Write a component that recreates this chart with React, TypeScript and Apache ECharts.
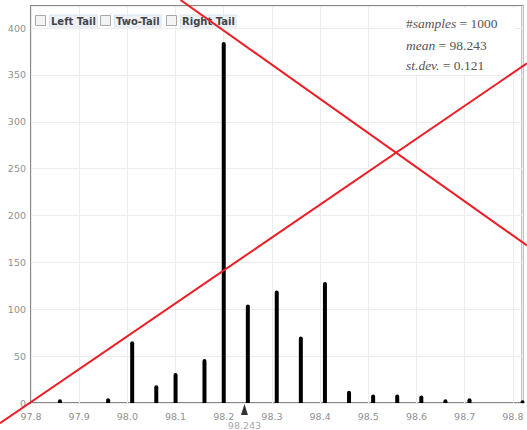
import React, { useEffect, useRef } from "react";
import * as echarts from "echarts";

// Bar positions (sample mean values) and their frequencies
const xValues = [97.86, 97.96, 98.01, 98.06, 98.1, 98.16, 98.2, 98.25, 98.31, 98.36, 98.41, 98.46, 98.51, 98.56, 98.61, 98.66, 98.71, 98.82];
const counts = [4, 5, 66, 19, 32, 47, 385, 105, 120, 71, 129, 13, 9, 9, 8, 4, 5, 3];

const xMin = 97.8;
const xMax = 98.82;
const yMax = 423.5;
const meanValue = 98.243;
const sampleCount = 1000;
const stdDev = 0.121;
const checkboxLabels = ["Left Tail", "Two-Tail", "Right Tail"];

export default function App() {
  const ref = useRef<HTMLDivElement>(null);
  useEffect(() => {
    if (!ref.current) return;
    const chart = echarts.init(ref.current, null, { renderer: "svg" });
    const labelColor = "#909090";
    const labelFont = "DejaVu Sans";
    const serif = "Liberation Serif";
    const cbX = [35, 100, 166];
    const cbTextX = [50, 115, 181];
    const graphics: any[] = [];
    checkboxLabels.forEach((t, i) => {
      graphics.push({
        type: "rect",
        z: 10,
        shape: { x: cbX[i] + 0.5, y: 15.5, width: 10, height: 10 },
        style: { fill: "#f4f4f4", stroke: "#a8a8a8", lineWidth: 1 },
      });
      graphics.push({
        type: "text",
        z: 10,
        x: cbTextX[i],
        y: 21,
        style: {
          text: t,
          font: `bold 10px "${labelFont}"`,
          fill: "#444",
          verticalAlign: "middle",
          backgroundColor: "#edf2f8",
          borderColor: "#dce5ee",
          borderWidth: 1,
          padding: [1, 1, 0, 1],
        },
      });
    });
    const rich = {
      u: { fontFamily: serif, fontSize: 13.5, fill: "#555", fontStyle: "normal" },
      i: { fontFamily: serif, fontSize: 13.5, fill: "#555", fontStyle: "italic" },
    };
    graphics.push({
      type: "rect",
      z: 8,
      shape: { x: 403, y: 8, width: 112, height: 66 },
      style: { fill: "#fff" },
    });
    const statLines = [
      `{u|#}{i|samples}{u| = ${sampleCount}}`,
      `{i|mean}{u| = ${meanValue}}`,
      `{i|st.dev.}{u| = ${stdDev}}`,
    ];
    const statY = [23, 45, 65];
    statLines.forEach((t, i) => {
      graphics.push({
        type: "text",
        z: 9,
        x: 406,
        y: statY[i],
        style: { text: t, rich, verticalAlign: "middle", fill: "#555" },
      });
    });
    // red overlay cross
    graphics.push({
      type: "line",
      z: 100,
      shape: { x1: 180.5, y1: 0, x2: 527, y2: 245.5 },
      style: { stroke: "#ee1c25", lineWidth: 2 },
    });
    graphics.push({
      type: "line",
      z: 100,
      shape: { x1: 0, y1: 423.2, x2: 527, y2: 63.3 },
      style: { stroke: "#ee1c25", lineWidth: 2 },
    });

    chart.setOption({
      animation: false,
      grid: {
        left: 31,
        right: 4.5,
        top: 6,
        bottom: 27,
        show: true,
        borderColor: "#888",
        borderWidth: 2,
        backgroundColor: "transparent",
      },
      xAxis: {
        type: "value",
        min: xMin,
        max: xMax,
        interval: 0.1,
        axisLine: { show: false },
        axisTick: { show: false },
        splitLine: { show: true, lineStyle: { color: "#ececec", width: 1 } },
        axisLabel: {
          color: labelColor,
          fontFamily: labelFont,
          fontSize: 9.5,
          margin: 8,
          formatter: (v: number) =>
            Math.abs(v * 10 - Math.round(v * 10)) < 1e-6 ? v.toFixed(1) : "",
        },
      },
      yAxis: {
        type: "value",
        min: 0,
        max: yMax,
        interval: 50,
        axisLine: { show: false },
        axisTick: { show: false },
        splitLine: { show: true, lineStyle: { color: "#ececec", width: 1 } },
        axisLabel: {
          color: labelColor,
          fontFamily: labelFont,
          fontSize: 9.5,
          margin: 5,
          formatter: (v: number) => (v % 50 === 0 ? String(v) : ""),
        },
      },
      series: [
        {
          type: "bar",
          data: xValues.map((x, i) => [x, counts[i]]),
          barWidth: 4,
          itemStyle: { color: "#000", borderRadius: [2, 2, 0, 0] },
          z: 3,
        },
        {
          type: "scatter",
          data: [[meanValue, 0]],
          symbol: "triangle",
          symbolSize: [7, 11],
          symbolOffset: [0, 6.5],
          clip: false,
          itemStyle: { color: "#000" },
          label: {
            show: true,
            position: "bottom",
            distance: 5,
            formatter: String(meanValue),
            color: labelColor,
            fontFamily: labelFont,
            fontSize: 9.5,
          },
          z: 4,
        },
      ],
      graphic: graphics,
    });
    return () => chart.dispose();
  }, []);
  return (
    <div
      ref={ref}
      style={{ position: "absolute", left: 0, top: 0, width: 527, height: 430 }}
    />
  );
}
